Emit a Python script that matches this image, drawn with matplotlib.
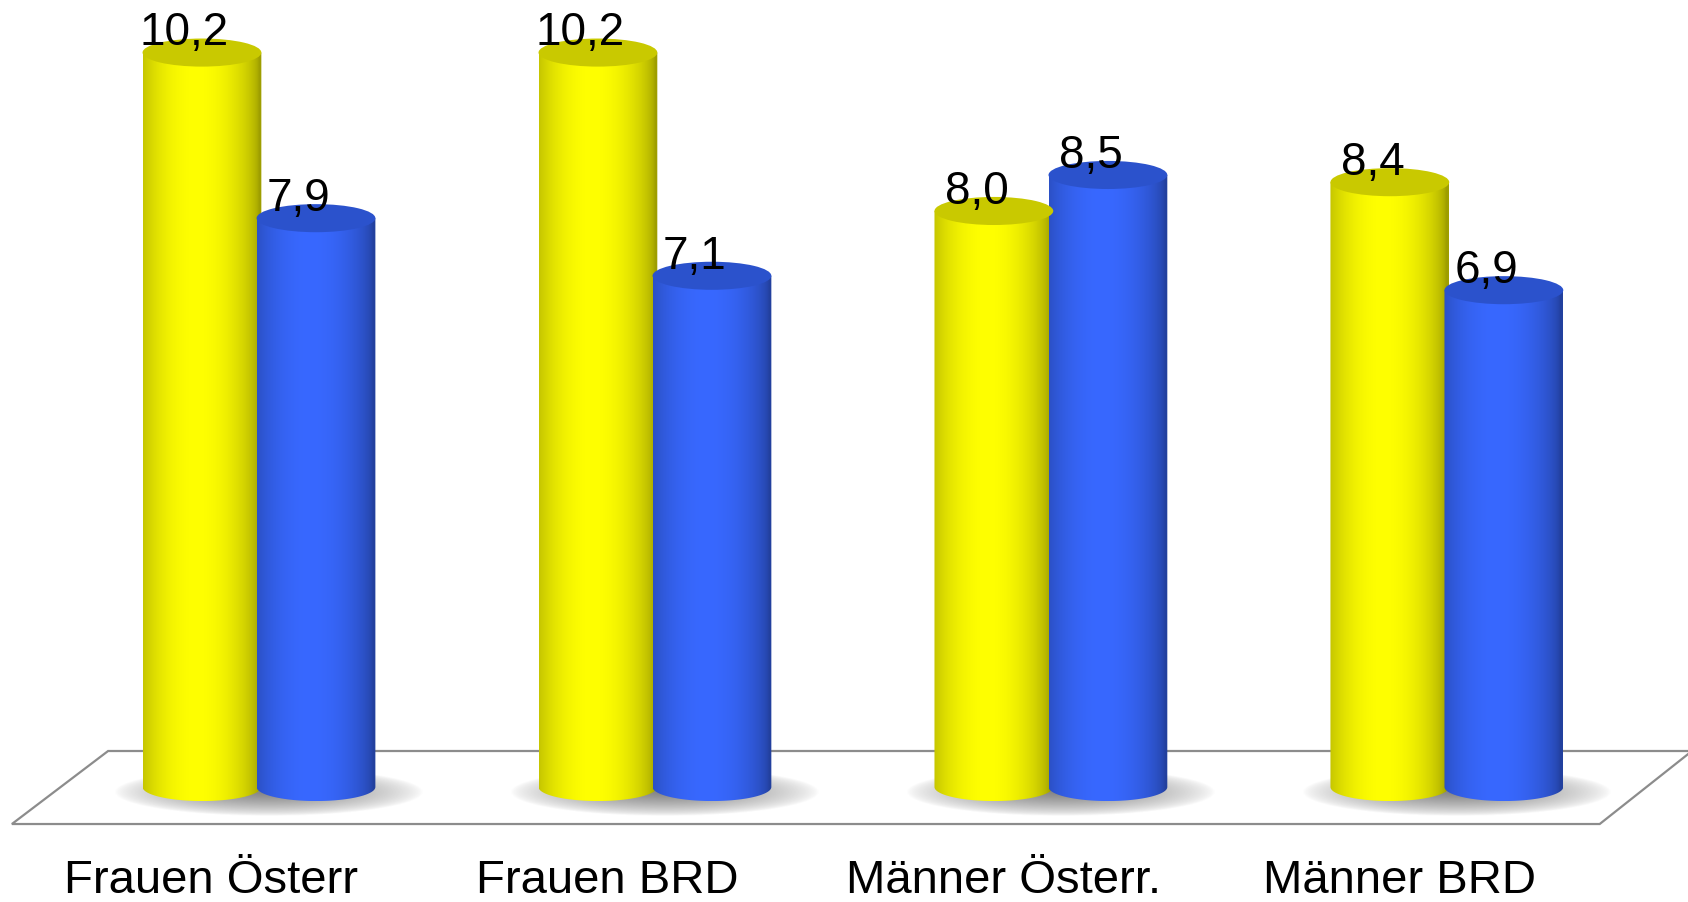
import numpy as np
import matplotlib
matplotlib.use("Agg")
import matplotlib.pyplot as plt
from matplotlib.patches import Polygon, Ellipse, PathPatch
from matplotlib.path import Path

# Data
categories = ["Frauen Österr", "Frauen BRD", "Männer Österr.", "Männer BRD"]
yellow_values = [10.2, 10.2, 8.0, 8.4]
blue_values = [7.9, 7.1, 8.5, 6.9]

plt.rcParams["font.family"] = ["Liberation Sans", "DejaVu Sans"]

fig = plt.figure(figsize=(16.88, 9.02), dpi=100)
ax = fig.add_axes([0, 0, 1, 1])
ax.set_axis_off()

XLIM = (-0.654, 3.609)
YLIM = (-1.597, 10.93)

BAR_W = 0.30          # cylinder diameter (x units)
OFFSET = 0.144        # half distance between paired cylinders
CAP_H = 0.195         # half height of the elliptical cap (y units)


def shade(base, n=256):
    """Horizontal shading profile for a lit cylinder."""
    t = np.linspace(0, 1, n)
    # brightest slightly left of centre, darker toward both edges
    light = np.clip(np.cos((t - 0.45) * np.pi * 0.95), 0, 1) ** 0.6
    k = 0.62 + 0.38 * light
    rgb = np.array(matplotlib.colors.to_rgb(base))
    return (rgb[None, :] * k[:, None])[None, :, :]


def cylinder(x, value, base, top):
    left, right = x - BAR_W / 2, x + BAR_W / 2
    theta = np.linspace(np.pi, 2 * np.pi, 60)
    arc = np.column_stack([x + BAR_W / 2 * np.cos(theta),
                           CAP_H * np.sin(theta)])
    verts = np.vstack([[left, value], arc, [right, value], [left, value]])
    codes = [Path.MOVETO] + [Path.LINETO] * (len(verts) - 2) + [Path.CLOSEPOLY]
    body = PathPatch(Path(verts, codes), facecolor="none", edgecolor="none")
    ax.add_patch(body)
    im = ax.imshow(shade(base), extent=[left, right, -CAP_H, value],
                   aspect="auto", interpolation="bilinear", zorder=3)
    im.set_clip_path(body)
    ax.add_patch(Ellipse((x, value), BAR_W, 2 * CAP_H, facecolor=top,
                         edgecolor="none", zorder=4))


def shadow(xc):
    xs = np.linspace(xc - 0.5, xc + 0.5, 240)
    ys = np.linspace(-0.55, 0.45, 100)
    X, Y = np.meshgrid(xs, ys)
    r = np.sqrt(((X - xc - 0.025) / 0.39) ** 2 + ((Y + 0.07) / 0.33) ** 2)
    alpha = 0.85 * np.clip(1 - r, 0, 1) ** 0.7
    img = np.zeros(X.shape + (4,))
    img[..., :3] = 0.42
    img[..., 3] = alpha
    ax.imshow(img, extent=[xs[0], xs[-1], ys[0], ys[-1]], origin="lower",
              aspect="auto", interpolation="bilinear", zorder=2)


# Floor
floor = Polygon([(-0.624, -0.514), (3.386, -0.514), (3.619, 0.5), (-0.381, 0.5)],
                closed=True, facecolor="white", edgecolor="#8c8c8c",
                linewidth=1.6, zorder=1)
ax.add_patch(floor)

fmt = lambda v: f"{v:.1f}".replace(".", ",")

for i, (cat, yv, bv) in enumerate(zip(categories, yellow_values, blue_values)):
    shadow(i)
    cylinder(i - OFFSET, yv, "#ffff00", "#c9c900")
    cylinder(i + OFFSET, bv, "#3868ff", "#2b52cc")
    for xv, v in ((i - OFFSET, yv), (i + OFFSET, bv)):
        ax.text(xv - 0.044, v + 0.10, fmt(v), ha="center", va="baseline",
                fontsize=33, color="black", zorder=6)
    ax.text(i - 0.12, -1.472, cat, ha="center", va="baseline",
            fontsize=34, color="black", zorder=6)

ax.set_xlim(*XLIM)
ax.set_ylim(*YLIM)
fig.savefig("out.png", dpi=100, facecolor="white")
